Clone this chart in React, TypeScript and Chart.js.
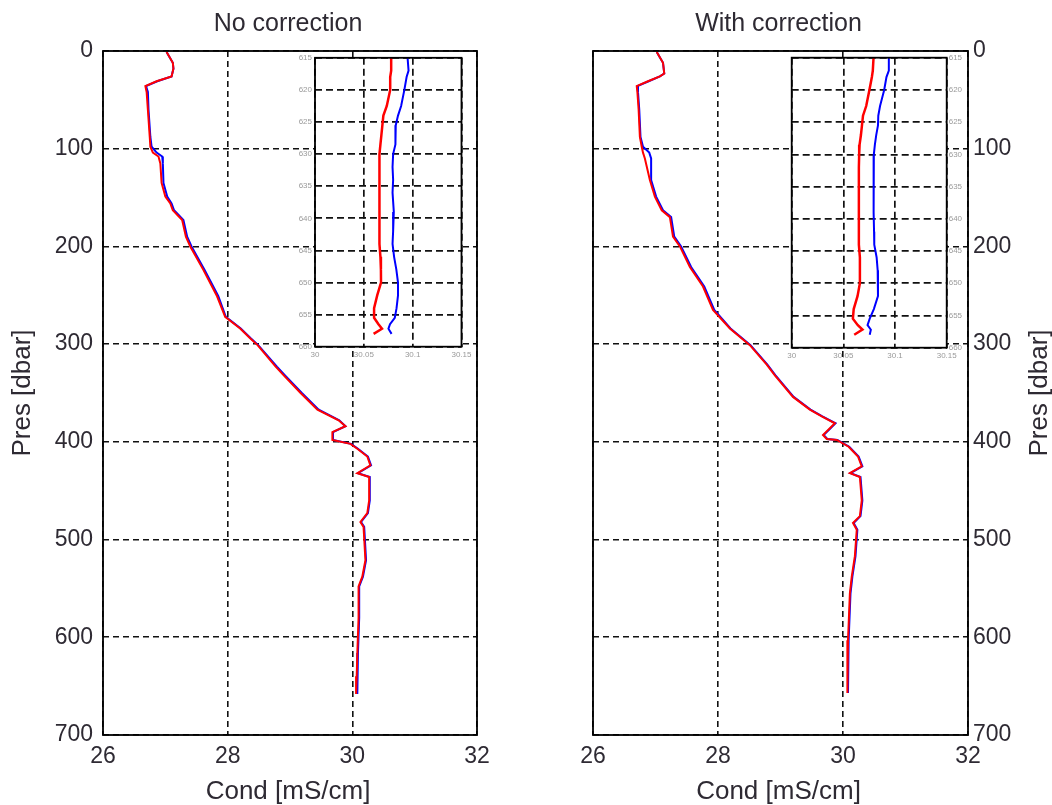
import React, { useEffect, useRef } from 'react';
import { Chart, registerables } from 'chart.js';
Chart.register(...registerables);

// ---------- Data ----------
// Left panel: "No correction"
const presL = [1, 12, 18, 26, 31, 36, 42, 60, 88, 98, 104, 108, 115, 135, 149, 156, 163, 173, 190, 200, 224, 251, 272, 284, 294, 301, 323, 332, 350, 367, 378, 384, 390, 398, 402, 407, 415, 424, 432, 436, 460, 473, 482, 487, 521, 538, 548, 580, 616, 640, 658];
const condLRed = [27.02, 27.12, 27.13, 27.10, 26.86, 26.68, 26.70, 26.72, 26.75, 26.76, 26.80, 26.89, 26.92, 26.94, 27.00, 27.08, 27.12, 27.27, 27.33, 27.40, 27.61, 27.83, 27.96, 28.20, 28.36, 28.48, 28.77, 28.90, 29.17, 29.44, 29.78, 29.89, 29.68, 29.68, 29.97, 30.08, 30.24, 30.29, 30.08, 30.27, 30.27, 30.24, 30.13, 30.18, 30.21, 30.16, 30.10, 30.10, 30.08, 30.07, 30.06];
const condLBlue = [27.02, 27.12, 27.13, 27.10, 26.87, 26.69, 26.72, 26.73, 26.76, 26.78, 26.86, 26.95, 26.96, 26.97, 27.03, 27.10, 27.14, 27.29, 27.35, 27.42, 27.63, 27.85, 27.97, 28.21, 28.37, 28.49, 28.79, 28.92, 29.19, 29.46, 29.79, 29.89, 29.69, 29.69, 29.98, 30.09, 30.25, 30.30, 30.09, 30.28, 30.28, 30.25, 30.14, 30.19, 30.22, 30.17, 30.11, 30.11, 30.09, 30.08, 30.08];

// Right panel: "With correction"
const presR = [1, 12, 23, 26, 31, 36, 42, 60, 88, 98, 104, 110, 132, 149, 163, 170, 190, 200, 221, 241, 265, 284, 301, 321, 332, 354, 367, 374, 381, 386, 393, 397, 398, 405, 415, 425, 432, 436, 460, 476, 483, 490, 517, 538, 555, 603, 657];
const condRRed = [27.02, 27.12, 27.14, 27.07, 26.88, 26.70, 26.71, 26.73, 26.75, 26.78, 26.80, 26.83, 26.91, 26.99, 27.10, 27.23, 27.28, 27.39, 27.55, 27.76, 27.92, 28.19, 28.51, 28.78, 28.91, 29.20, 29.47, 29.66, 29.87, 29.79, 29.68, 29.74, 29.90, 30.09, 30.24, 30.30, 30.11, 30.27, 30.30, 30.27, 30.16, 30.22, 30.19, 30.14, 30.11, 30.08, 30.07];
const condRBlue = [27.02, 27.12, 27.14, 27.07, 26.89, 26.71, 26.72, 26.74, 26.76, 26.80, 26.90, 26.93, 26.93, 27.01, 27.12, 27.25, 27.30, 27.41, 27.57, 27.78, 27.94, 28.20, 28.52, 28.79, 28.92, 29.21, 29.48, 29.67, 29.88, 29.80, 29.69, 29.75, 29.91, 30.10, 30.25, 30.31, 30.12, 30.28, 30.31, 30.28, 30.17, 30.23, 30.20, 30.15, 30.12, 30.09, 30.08];

// Insets (zoom on 615-660 dbar)
const insetPres = [615, 617, 618, 620, 622.5, 624, 625.5, 627, 628.5, 630, 632, 634, 636, 639, 642, 644, 646, 648, 650, 652, 654, 655.5, 656.5, 657.2, 658];
const insetLRed = [30.078, 30.078, 30.077, 30.077, 30.0735, 30.070, 30.069, 30.068, 30.067, 30.066, 30.066, 30.066, 30.066, 30.066, 30.066, 30.066, 30.067, 30.0675, 30.0676, 30.0637, 30.0605, 30.0605, 30.065, 30.0686, 30.060];
const insetLBlue = [30.0948, 30.0958, 30.0938, 30.0915, 30.0882, 30.085, 30.0827, 30.0827, 30.082, 30.080, 30.0794, 30.080, 30.0794, 30.0807, 30.080, 30.0794, 30.081, 30.0833, 30.085, 30.085, 30.0835, 30.0817, 30.0768, 30.0752, 30.0784];
const insetRRed = [30.0792, 30.0785, 30.0776, 30.0752, 30.0721, 30.069, 30.068, 30.067, 30.0657, 30.0653, 30.065, 30.065, 30.065, 30.065, 30.065, 30.065, 30.066, 30.066, 30.066, 30.0637, 30.060, 30.0592, 30.064, 30.0685, 30.0605];
const insetRBlue = [30.094, 30.094, 30.0917, 30.0895, 30.0855, 30.0838, 30.0835, 30.0818, 30.0805, 30.0795, 30.0792, 30.0792, 30.0792, 30.0795, 30.0797, 30.0799, 30.0822, 30.0832, 30.0835, 30.0835, 30.0795, 30.0755, 30.0734, 30.0766, 30.0755];

// Ticks and labels
const mainXTicks = [26, 28, 30, 32];
const mainYTicks = [0, 100, 200, 300, 400, 500, 600, 700];
const insetXTicks = [30, 30.05, 30.1, 30.15];
const insetXTickLabels = ['30', '30.05', '30.1', '30.15'];
const insetYTicks = [615, 620, 625, 630, 635, 640, 645, 650, 655, 660];
const titles = ['No correction', 'With correction'];
const xLabel = 'Cond [mS/cm]';
const yLabel = 'Pres [dbar]';

// ---------- Styling ----------
const FONT = '"Liberation Sans", Arial, Helvetica, sans-serif';
const TEXT = '#2e2a33';

const pts = (c: number[], p: number[]) => c.map((v, i) => ({ x: v, y: p[i] }));

function decor(o: { title?: string; xlabel?: string; ylabel?: string; ylabelX?: number; fillWhite?: boolean; frameWidth: number }) {
  return {
    id: 'decor',
    beforeDraw(chart: any) {
      if (!o.fillWhite) return;
      const { ctx, chartArea: a } = chart;
      ctx.save();
      ctx.fillStyle = '#ffffff';
      ctx.fillRect(a.left, a.top, a.right - a.left, a.bottom - a.top);
      ctx.restore();
    },
    afterDraw(chart: any) {
      const { ctx, chartArea: a } = chart;
      ctx.save();
      ctx.setLineDash([]);
      ctx.strokeStyle = '#000';
      ctx.lineWidth = o.frameWidth;
      ctx.strokeRect(a.left, a.top, a.right - a.left, a.bottom - a.top);
      ctx.fillStyle = TEXT;
      ctx.textAlign = 'center';
      ctx.textBaseline = 'alphabetic';
      const cx = (a.left + a.right) / 2;
      if (o.title) {
        ctx.font = `25px ${FONT}`;
        ctx.fillText(o.title, cx - 2, 31);
      }
      if (o.xlabel) {
        ctx.font = `26px ${FONT}`;
        ctx.fillText(o.xlabel, cx - 2, 799);
      }
      if (o.ylabel) {
        ctx.translate(o.ylabelX || 0, (a.top + a.bottom) / 2);
        ctx.rotate(-Math.PI / 2);
        ctx.textBaseline = 'middle';
        ctx.font = `26px ${FONT}`;
        ctx.fillText(o.ylabel, 0, 0);
      }
      ctx.restore();
    },
  };
}

function mainConfig(pres: number[], red: number[], blue: number[], title: string, side: 'left' | 'right') {
  const isLeft = side === 'left';
  return {
    type: 'line',
    data: {
      datasets: [
        { data: pts(red, pres), borderColor: '#ff0000', borderWidth: 2, pointRadius: 0, tension: 0, fill: false },
        { data: pts(blue, pres), borderColor: '#0000ff', borderWidth: 2, pointRadius: 0, tension: 0, fill: false },
      ],
    },
    options: {
      animation: false,
      responsive: false,
      maintainAspectRatio: false,
      events: [],
      layout: { padding: isLeft ? { left: 0, right: 23, top: 51, bottom: 0 } : { left: 73, right: 0, top: 51, bottom: 0 } },
      plugins: { legend: { display: false }, tooltip: { enabled: false }, title: { display: false } },
      scales: {
        x: {
          type: 'linear',
          min: 26,
          max: 32,
          position: 'bottom',
          afterBuildTicks: (s: any) => { s.ticks = mainXTicks.map((v) => ({ value: v })); },
          afterFit: (s: any) => { s.height = 70; },
          ticks: { font: { family: FONT, size: 23 }, color: TEXT, padding: 8, maxRotation: 0, autoSkip: false, callback: (v: any) => String(v) },
          grid: { color: '#111', lineWidth: 1.6, drawTicks: false },
          border: { display: false, dash: [6, 4] },
        },
        y: {
          type: 'linear',
          min: 0,
          max: 700,
          reverse: true,
          position: side,
          afterBuildTicks: (s: any) => { s.ticks = mainYTicks.map((v) => ({ value: v })); },
          afterFit: (s: any) => { s.width = isLeft ? 103 : 84; },
          ticks: { font: { family: FONT, size: 23 }, color: TEXT, padding: isLeft ? 10 : 5, autoSkip: false, callback: (v: any) => String(v) },
          grid: { color: '#111', lineWidth: 1.6, drawTicks: false },
          border: { display: false, dash: [6, 4] },
        },
      },
    },
    plugins: [decor({ title, xlabel: xLabel, ylabel: yLabel, ylabelX: isLeft ? 23 : 520, frameWidth: 1.8 })],
  };
}

function insetConfig(red: number[], blue: number[], side: 'left' | 'right') {
  const isLeft = side === 'left';
  return {
    type: 'line',
    data: {
      datasets: [
        { data: pts(red, insetPres), borderColor: '#ff0000', borderWidth: 2.5, pointRadius: 0, tension: 0, fill: false },
        { data: pts(blue, insetPres), borderColor: '#0000ff', borderWidth: 2, pointRadius: 0, tension: 0, fill: false },
      ],
    },
    options: {
      animation: false,
      responsive: false,
      maintainAspectRatio: false,
      events: [],
      layout: { padding: isLeft ? { left: 0, right: 7, top: 7.7, bottom: 0 } : { left: 11.7, right: 0, top: 7.7, bottom: 0 } },
      plugins: { legend: { display: false }, tooltip: { enabled: false }, title: { display: false } },
      scales: {
        x: {
          type: 'linear',
          min: 30,
          max: 30.15,
          position: 'bottom',
          afterBuildTicks: (s: any) => { s.ticks = insetXTicks.map((v) => ({ value: v })); },
          afterFit: (s: any) => { s.height = isLeft ? 23.3 : 22.3; },
          ticks: {
            font: { family: FONT, size: 8 }, color: '#9a9a9a', padding: 3.5, maxRotation: 0, autoSkip: false,
            callback: (v: any) => insetXTickLabels[insetXTicks.indexOf(v)] ?? String(v),
          },
          grid: { color: '#111', lineWidth: 1.7, drawTicks: false },
          border: { display: false, dash: [7, 4] },
        },
        y: {
          type: 'linear',
          min: 615,
          max: 660,
          reverse: true,
          position: side,
          afterBuildTicks: (s: any) => { s.ticks = insetYTicks.map((v) => ({ value: v })); },
          afterFit: (s: any) => { s.width = isLeft ? 30 : 23.3; },
          ticks: { font: { family: FONT, size: 8 }, color: '#9a9a9a', padding: isLeft ? 3 : 2, autoSkip: false, callback: (v: any) => String(v) },
          grid: { color: '#111', lineWidth: 1.7, drawTicks: false },
          border: { display: false, dash: [7, 4] },
        },
      },
    },
    plugins: [decor({ fillWhite: true, frameWidth: 1.8 })],
  };
}

type Box = { left: number; top: number; width: number; height: number };

function ChartCanvas({ box, make }: { box: Box; make: () => any }) {
  const ref = useRef<HTMLCanvasElement>(null);
  useEffect(() => {
    const chart = new Chart(ref.current as HTMLCanvasElement, make());
    return () => chart.destroy();
  }, []);
  return (
    <canvas
      ref={ref}
      width={box.width}
      height={box.height}
      style={{ position: 'absolute', left: box.left, top: box.top, width: box.width, height: box.height }}
    />
  );
}

export default function App() {
  return (
    <div style={{ position: 'absolute', left: 0, top: 0, width: 1052, height: 805, background: '#fff', overflow: 'hidden' }}>
      <ChartCanvas box={{ left: 0, top: 0, width: 500, height: 805 }} make={() => mainConfig(presL, condLRed, condLBlue, titles[0], 'left')} />
      <ChartCanvas box={{ left: 520, top: 0, width: 532, height: 805 }} make={() => mainConfig(presR, condRRed, condRBlue, titles[1], 'right')} />
      <ChartCanvas box={{ left: 285, top: 50, width: 190, height: 320 }} make={() => insetConfig(insetLRed, insetLBlue, 'left')} />
      <ChartCanvas box={{ left: 780, top: 50, width: 190, height: 320 }} make={() => insetConfig(insetRRed, insetRBlue, 'right')} />
    </div>
  );
}
